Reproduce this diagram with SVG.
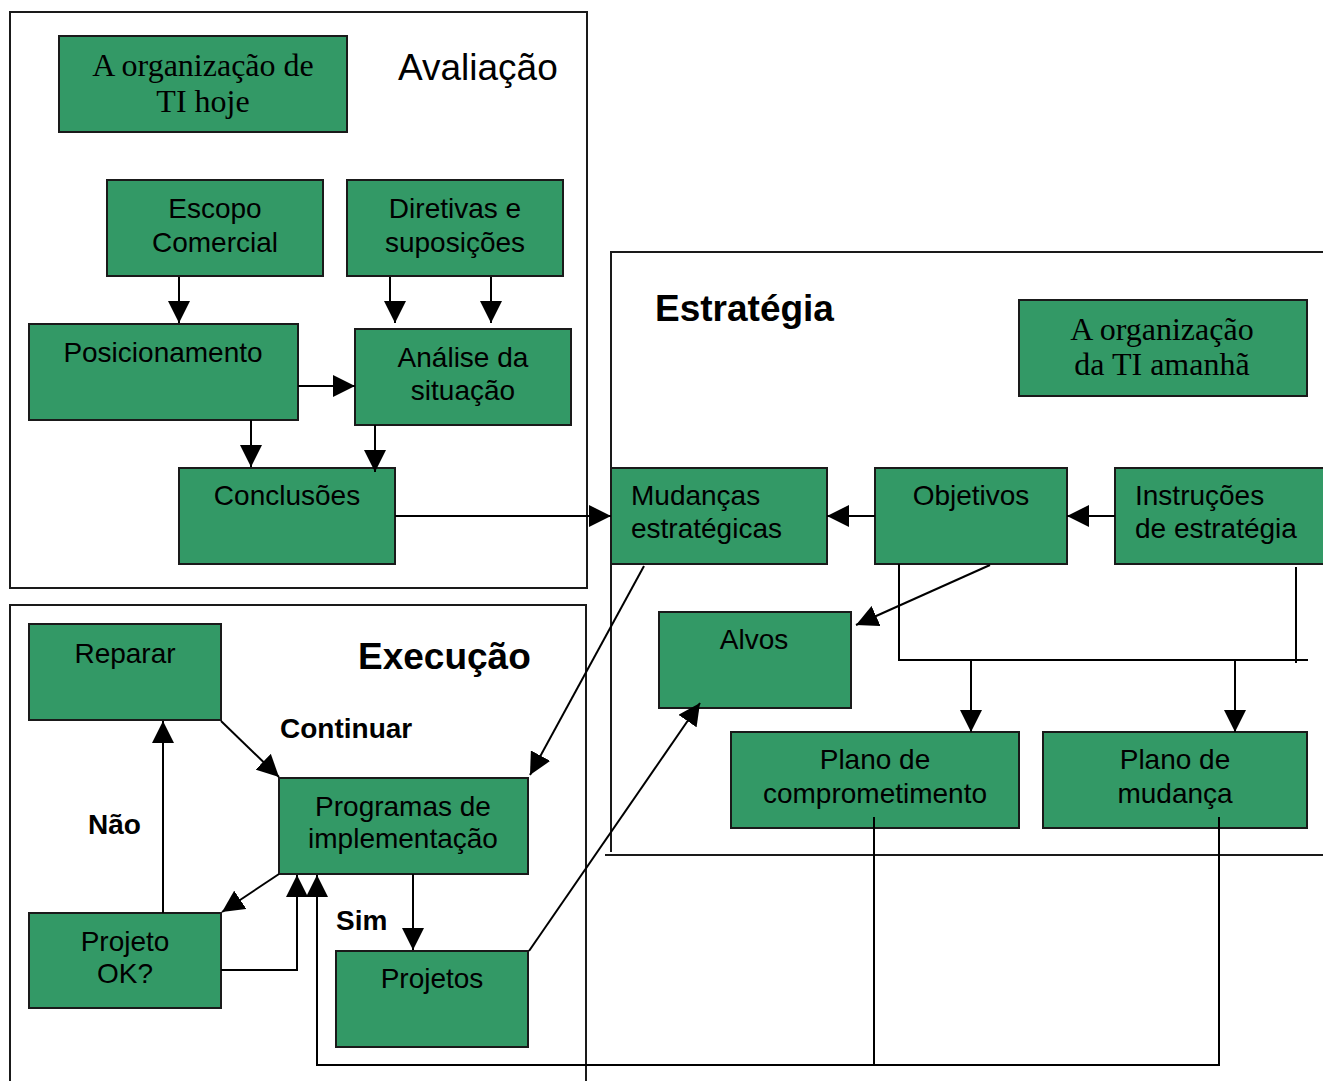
<svg xmlns="http://www.w3.org/2000/svg" width="1323" height="1081" viewBox="0 0 1323 1081">
<style>
.box{fill:#339966;stroke:#1a1a1a;stroke-width:2}
.frame{fill:none;stroke:#1a1a1a;stroke-width:2}
.t{font-family:"Liberation Sans",Arial,sans-serif;font-size:28px;fill:#000}
.c{text-anchor:middle}
.serif{font-family:"Liberation Serif","Times New Roman",serif;font-size:32px;fill:#000;text-anchor:middle}
.b{font-family:"Liberation Sans",Arial,sans-serif;font-weight:bold;fill:#000}
.conn path{fill:none;stroke:#000;stroke-width:2}
.arr{marker-end:url(#ah)}
</style>
<defs>
<marker id="ah" markerUnits="userSpaceOnUse" markerWidth="22" markerHeight="22" refX="20" refY="10" orient="auto" viewBox="0 0 20 20">
<path d="M0,0 L20,10 L0,20 z" fill="#000"/>
</marker>
</defs>
<rect width="1323" height="1081" fill="#fff"/>
<g id="frames">
<rect class="frame" x="10" y="12" width="577" height="576"/>
<path class="frame" d="M1323,252 H611 V852"/>
<path class="frame" d="M605,855 H1323"/>
<path class="frame" d="M10,1081 V605 H586 V1081"/>
<text class="t" x="398" y="80" style="font-size:37px">Avaliação</text>
<text class="b" x="655" y="321" style="font-size:37px">Estratégia</text>
<text class="b" x="358" y="669" style="font-size:37px">Execução</text>
</g>
<g id="n-org-hoje"><rect class="box" x="59" y="36" width="288" height="96"/><text class="serif" x="203" y="76">A organização de</text><text class="serif" x="203" y="112">TI hoje</text></g>
<g id="n-escopo"><rect class="box" x="107" y="180" width="216" height="96"/><text class="t c" x="215" y="218">Escopo</text><text class="t c" x="215" y="252">Comercial</text></g>
<g id="n-diretivas"><rect class="box" x="347" y="180" width="216" height="96"/><text class="t c" x="455" y="218">Diretivas e</text><text class="t c" x="455" y="252">suposições</text></g>
<g id="n-posic"><rect class="box" x="29" y="324" width="269" height="96"/><text class="t c" x="163" y="362">Posicionamento</text></g>
<g id="n-analise"><rect class="box" x="355" y="329" width="216" height="96"/><text class="t c" x="463" y="367">Análise da</text><text class="t c" x="463" y="400">situação</text></g>
<g id="n-conclusoes"><rect class="box" x="179" y="468" width="216" height="96"/><text class="t c" x="287" y="505">Conclusões</text></g>
<g id="n-org-amanha"><rect class="box" x="1019" y="300" width="288" height="96"/><text class="serif" x="1162" y="340">A organização</text><text class="serif" x="1162" y="375">da TI amanhã</text></g>
<g id="n-mudancas"><rect class="box" x="611" y="468" width="216" height="96"/><text class="t" x="631" y="505">Mudanças</text><text class="t" x="631" y="538">estratégicas</text></g>
<g id="n-objetivos"><rect class="box" x="875" y="468" width="192" height="96"/><text class="t c" x="971" y="505">Objetivos</text></g>
<g id="n-instrucoes"><rect class="box" x="1115" y="468" width="220" height="96"/><text class="t" x="1135" y="505">Instruções</text><text class="t" x="1135" y="538">de estratégia</text></g>
<g id="n-alvos"><rect class="box" x="659" y="612" width="192" height="96"/><text class="t c" x="754" y="649">Alvos</text></g>
<g id="n-plano-comp"><rect class="box" x="731" y="732" width="288" height="96"/><text class="t c" x="875" y="769">Plano de</text><text class="t c" x="875" y="803">comprometimento</text></g>
<g id="n-plano-mud"><rect class="box" x="1043" y="732" width="264" height="96"/><text class="t c" x="1175" y="769">Plano de</text><text class="t c" x="1175" y="803">mudança</text></g>
<g id="n-reparar"><rect class="box" x="29" y="624" width="192" height="96"/><text class="t c" x="125" y="663">Reparar</text></g>
<g id="n-programas"><rect class="box" x="279" y="778" width="249" height="96"/><text class="t c" x="403" y="816">Programas de</text><text class="t c" x="403" y="848">implementação</text></g>
<g id="n-projeto-ok"><rect class="box" x="29" y="913" width="192" height="95"/><text class="t c" x="125" y="951">Projeto</text><text class="t c" x="125" y="983">OK?</text></g>
<g id="n-projetos"><rect class="box" x="336" y="951" width="192" height="96"/><text class="t c" x="432" y="988">Projetos</text></g>
<g id="labels">
<text class="b" x="280" y="738" style="font-size:28px">Continuar</text>
<text class="b" x="88" y="834" style="font-size:28px">Não</text>
<text class="b" x="336" y="930" style="font-size:28px">Sim</text>
</g>
<g id="connectors" class="conn">
<path class="arr" d="M179,277 V323"/>
<path class="arr" d="M390,277 V302 H395 V323"/>
<path class="arr" d="M491,277 V323"/>
<path class="arr" d="M298,386 H355"/>
<path class="arr" d="M251,420 V467"/>
<path class="arr" d="M375,425 V472"/>
<path class="arr" d="M395,516 H611"/>
<path class="arr" d="M875,516 H827"/>
<path class="arr" d="M1115,516 H1067"/>
<path class="arr" d="M990,565 L856,625"/>
<path d="M899,564 V660 H1308"/>
<path d="M1296,567 V663"/>
<path class="arr" d="M971,660 V732"/>
<path class="arr" d="M1235,660 V732"/>
<path class="arr" d="M644,566 L530,775"/>
<path class="arr" d="M529,951 L700,703"/>
<path class="arr" d="M221,721 L279,777"/>
<path class="arr" d="M279,874 L222,912"/>
<path class="arr" d="M163,913 V721"/>
<path class="arr" d="M221,970 H297 V875"/>
<path d="M874,817 V1065"/>
<path class="arr" d="M1219,817 V1065 H317 V875"/>
<path class="arr" d="M413,874 V950"/>
</g>
</svg>
